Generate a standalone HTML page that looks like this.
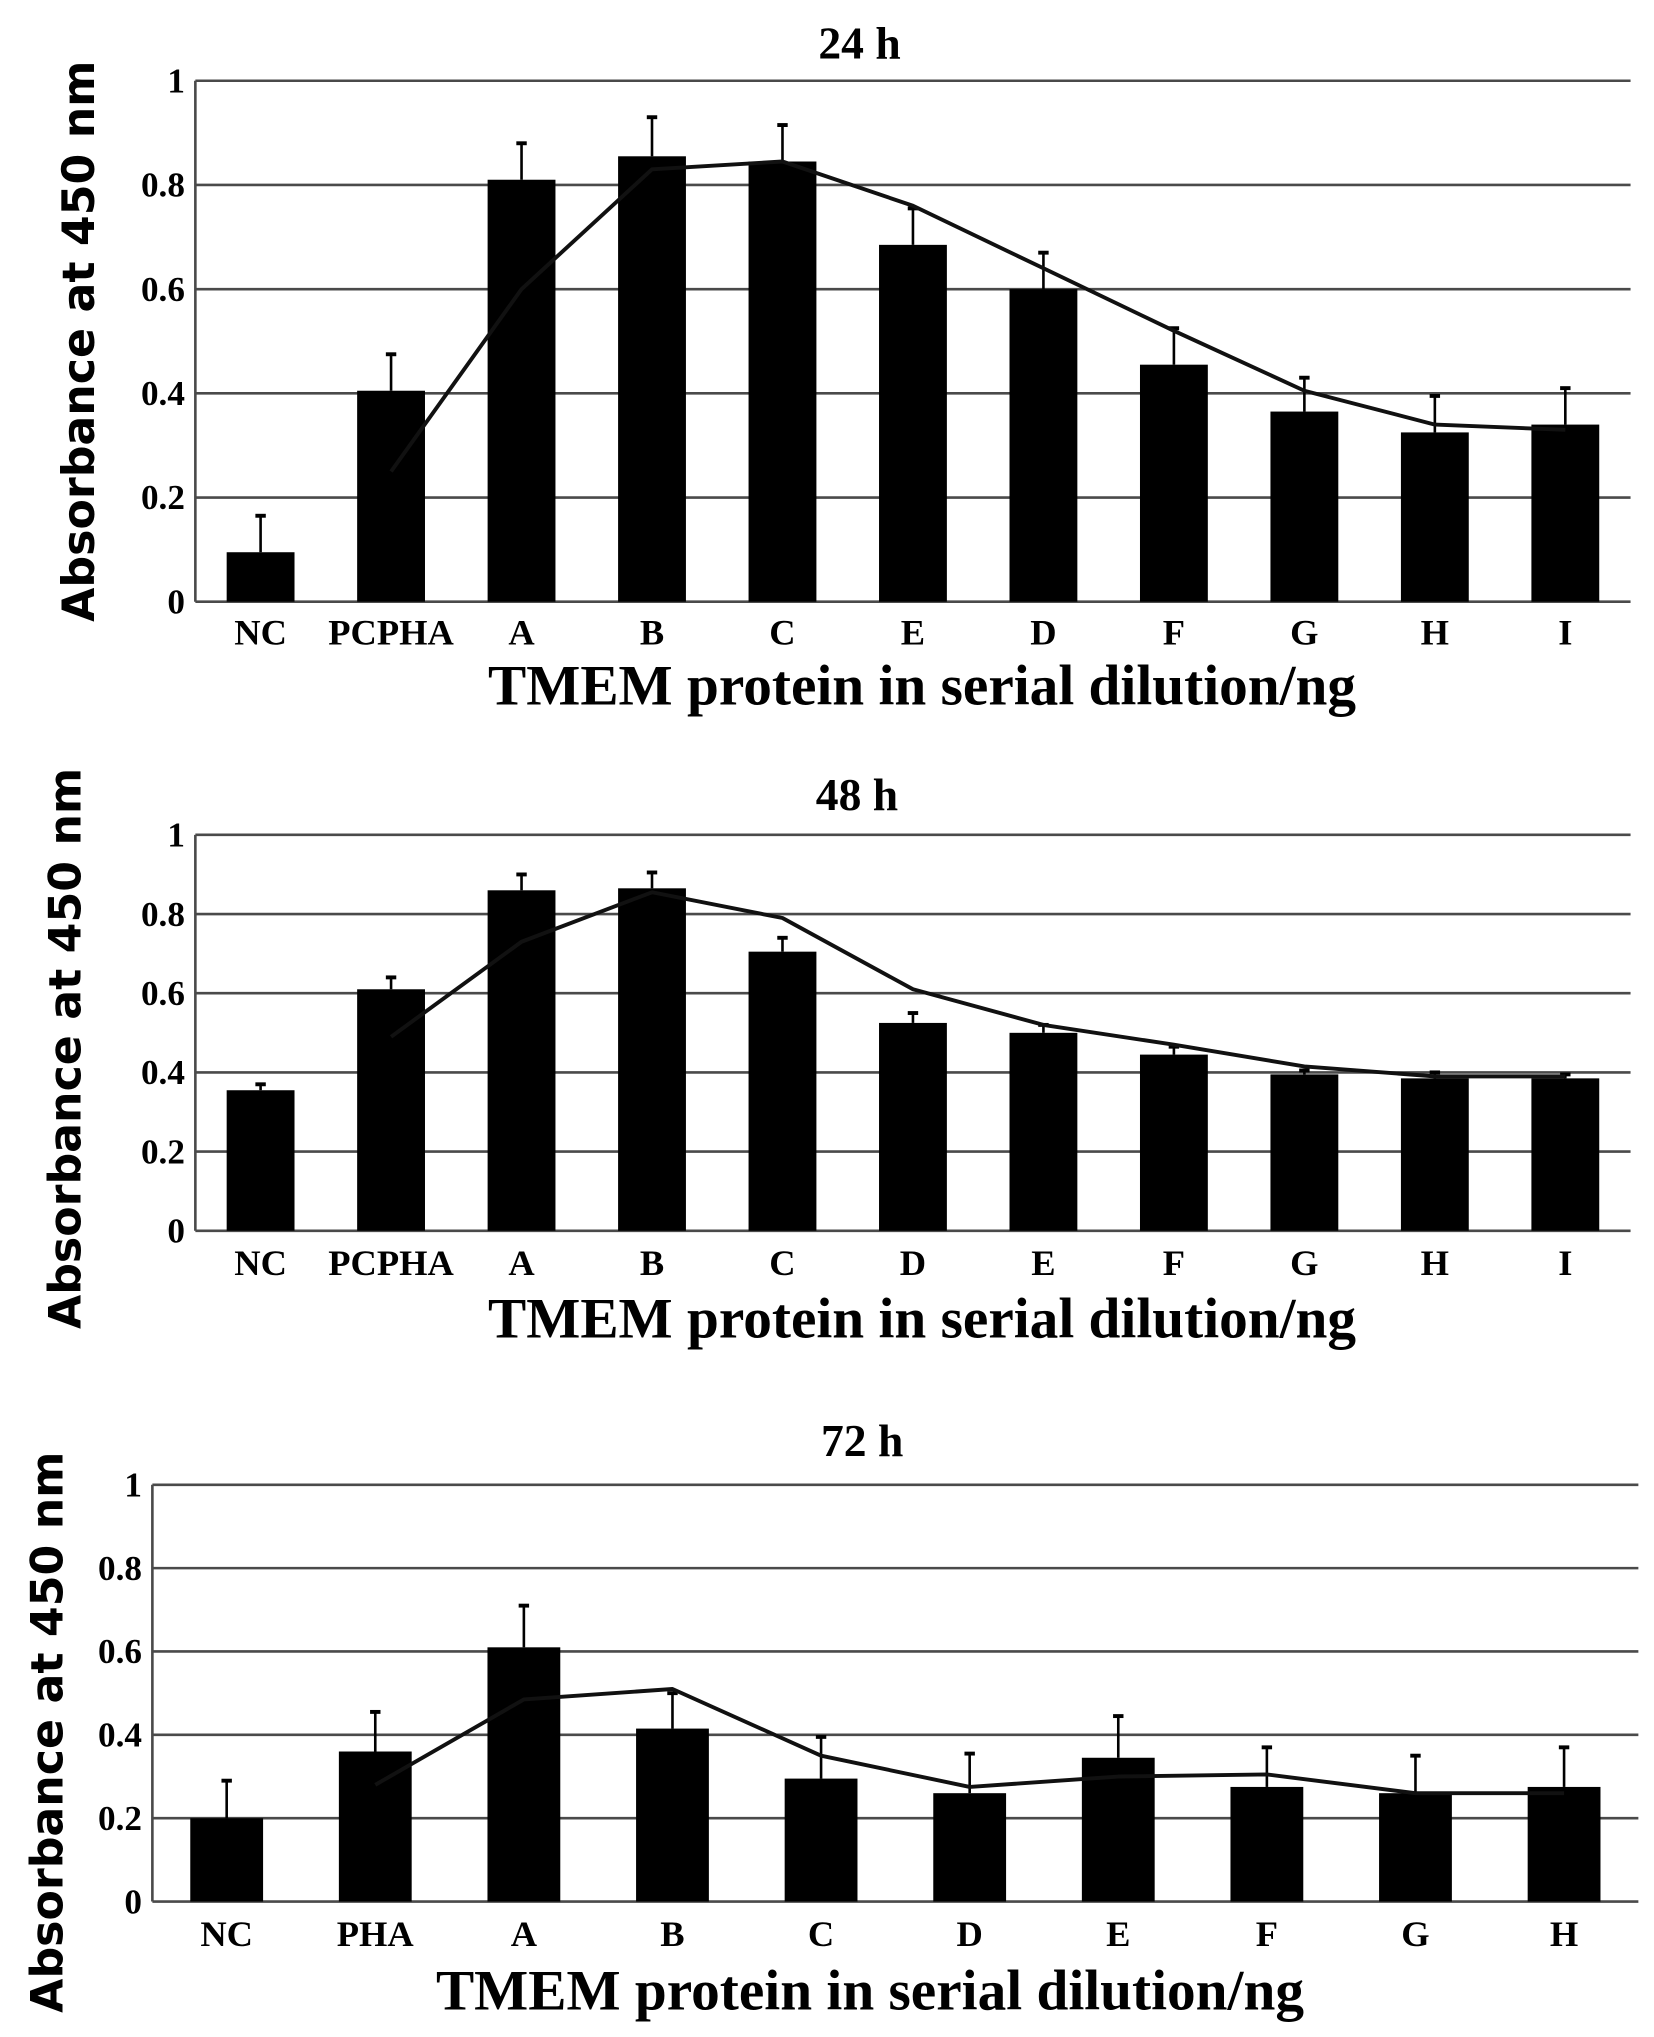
<!DOCTYPE html>
<html><head><meta charset="utf-8"><style>
html,body{margin:0;padding:0;background:#fff;}
svg{display:block;}
</style></head><body>
<svg id="fig" width="1654" height="2037" viewBox="0 0 1270 1564" preserveAspectRatio="none" xmlns="http://www.w3.org/2000/svg"></svg>
<script>
const cats24 = ["NC","PCPHA","A","B","C","E","D","F","G","H","I"];
const bars24 = [0.095,0.405,0.81,0.855,0.845,0.685,0.60,0.455,0.365,0.325,0.34];
const errs24 = [0.07,0.07,0.07,0.075,0.07,0.07,0.07,0.07,0.065,0.07,0.07];
const line24 = [null,0.25,0.60,0.83,0.845,0.76,0.64,0.52,0.405,0.34,0.33];

const cats48 = ["NC","PCPHA","A","B","C","D","E","F","G","H","I"];
const bars48 = [0.355,0.61,0.86,0.865,0.705,0.525,0.50,0.445,0.395,0.385,0.385];
const errs48 = [0.015,0.03,0.04,0.04,0.035,0.025,0.02,0.02,0.01,0.015,0.01];
const line48 = [null,0.49,0.73,0.855,0.79,0.61,0.52,0.47,0.415,0.39,0.39];

const cats72 = ["NC","PHA","A","B","C","D","E","F","G","H"];
const bars72 = [0.20,0.36,0.61,0.415,0.295,0.26,0.345,0.275,0.26,0.275];
const errs72 = [0.09,0.095,0.10,0.085,0.10,0.095,0.10,0.095,0.09,0.095];
const line72 = [null,0.28,0.485,0.51,0.35,0.275,0.30,0.305,0.26,0.26];

const yTicks = [0,0.2,0.4,0.6,0.8,1];
const yTickLabels = ["0","0.2","0.4","0.6","0.8","1"];

const NS="http://www.w3.org/2000/svg";
const svg=document.getElementById('fig');
function mk(tag,attrs,parent){const e=document.createElementNS(NS,tag);for(const k in attrs)e.setAttribute(k,attrs[k]);(parent||svg).appendChild(e);return e;}

function chart(o){
  const g=mk('g',{});
  
  
  const band=(o.right-o.left)/o.cats.length;
  const xc=i=>o.left+band*(i+0.5);
  const y=v=>o.y0+(o.y1-o.y0)*v;
  yTicks.forEach((t,i)=>{
    const l=mk('line',{x1:o.left,x2:o.right,y1:y(t),y2:y(t),stroke:'#4a4a4a','stroke-width':2},g);
    
    
    const tx=mk('text',{x:o.left-8,y:y(t)+9,'text-anchor':'end','font-family':'Liberation Serif, serif','font-weight':'bold','font-size':27},g);
    tx.textContent=yTickLabels[i];
    
    
  });
  const ax=mk('line',{x1:o.left,x2:o.left,y1:o.y0,y2:o.y1,stroke:'#4a4a4a','stroke-width':2},g);
  
  
  const bw=band*o.bwf;
  o.cats.forEach((c,i)=>{
    const top=y(o.bars[i]+o.errs[i]);
    const el=mk('line',{x1:xc(i),x2:xc(i),y1:y(o.bars[i]),y2:top,stroke:'#000','stroke-width':2},g);
    
    
    const cap=mk('line',{x1:xc(i)-4,x2:xc(i)+4,y1:top,y2:top,stroke:'#000','stroke-width':3},g);
    
    
    const r=mk('rect',{x:xc(i)-bw/2,y:y(o.bars[i]),width:bw,height:o.y0-y(o.bars[i]),fill:'#000'},g);
    
    
    const t=mk('text',{x:xc(i),y:o.labelY,'text-anchor':'middle','font-family':'Liberation Serif, serif','font-weight':'bold','font-size':28},g);
    t.textContent=c;
    
    
  });
  const pts=[];
  o.line.forEach((v,i)=>{if(v!==null)pts.push(xc(i)+','+y(v));});
  const pl=mk('polyline',{points:pts.join(' '),fill:'none',stroke:'#111','stroke-width':3,'stroke-linejoin':'round'},g);
  
  
  const ti=mk('text',{x:o.titleX,y:o.titleY,'text-anchor':'middle','font-family':'Liberation Serif, serif','font-weight':'bold','font-size':35},g);
  ti.textContent=o.title;
  
  
  const xt=mk('text',{x:o.xtX,y:o.xtY,'text-anchor':'middle','font-family':'Liberation Serif, serif','font-weight':'bold','font-size':44},g);
  xt.textContent='TMEM protein in serial dilution/ng';
  
  
  const yt=mk('text',{x:0,y:0,'text-anchor':'middle','font-family':'DejaVu Sans, sans-serif','font-weight':'bold','font-size':34,transform:'translate('+o.ytX+','+o.ytY+') rotate(-90)'},g);
  yt.textContent='Absorbance at 450 nm';
  
  
}
chart({name:'chart-24h',cats:cats24,bars:bars24,errs:errs24,line:line24,left:150,right:1252,bwf:0.52,y0:462,y1:62,labelY:495,title:'24 h',titleX:660,titleY:45,xtX:708,xtY:541,ytX:72,ytY:262});
chart({name:'chart-48h',cats:cats48,bars:bars48,errs:errs48,line:line48,left:150,right:1252,bwf:0.52,y0:945,y1:641,labelY:979,title:'48 h',titleX:658,titleY:622,xtX:708,xtY:1027,ytX:62,ytY:805});
chart({name:'chart-72h',cats:cats72,bars:bars72,errs:errs72,line:line72,left:117,right:1258,bwf:0.49,y0:1460,y1:1140,labelY:1494,title:'72 h',titleX:662,titleY:1118,xtX:668,xtY:1543,ytX:48,ytY:1330});
</script>
</body></html>
